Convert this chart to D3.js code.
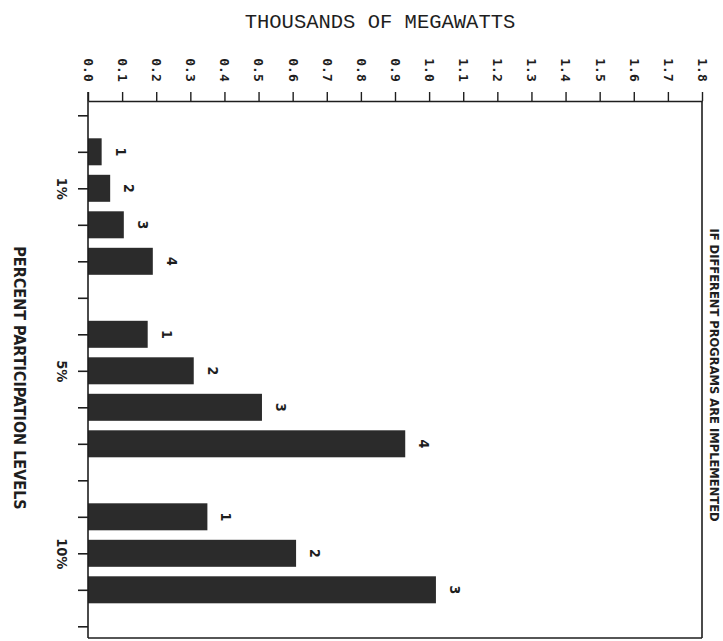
<!DOCTYPE html>
<html>
<head>
<meta charset="utf-8">
<script src="https://cdn.jsdelivr.net/npm/d3@7"></script>
<style>
  html, body { margin: 0; padding: 0; background: #fff; }
  svg { display: block; }
</style>
</head>
<body>
<script>
// ---- data ----
const categories = ["1%", "5%", "10%"];
const programs1 = ["1", "2", "3", "4"];
const programs5 = ["1", "2", "3", "4"];
const programs10 = ["1", "2", "3"];
const values1 = [0.04, 0.065, 0.105, 0.19];
const values5 = [0.175, 0.31, 0.51, 0.93];
const values10 = [0.35, 0.61, 1.02];
const xTickValues = [0.0, 0.1, 0.2, 0.3, 0.4, 0.5, 0.6, 0.7, 0.8, 0.9, 1.0, 1.1, 1.2, 1.3, 1.4, 1.5, 1.6, 1.7, 1.8];
const titleText = "THOUSANDS OF MEGAWATTS";
const yTitleText = "PERCENT PARTICIPATION LEVELS";
const rightText = "IF DIFFERENT PROGRAMS ARE IMPLEMENTED";

(function () {
// ---- build slot table ----
const groups = [
  { cat: categories[0], progs: programs1, vals: values1 },
  { cat: categories[1], progs: programs5, vals: values5 },
  { cat: categories[2], progs: programs10, vals: values10 }
];
const slots = [];
const bars = [];
const catSlot = {};
slots.push("pad0");
groups.forEach((g, gi) => {
  g.progs.forEach((p, i) => {
    const id = g.cat + "-" + p;
    slots.push(id);
    bars.push({ id, label: p, value: g.vals[i] });
    if (i === 1) catSlot[id] = g.cat;
  });
  slots.push("pad" + (gi + 1));
});

const W = 723, H = 641;
const pL = 88, pR = 702, pT = 101, pB = 638;
const svg = d3.select("body").append("svg").attr("width", W).attr("height", H);

const x = d3.scaleLinear().domain([0, 1.8]).range([pL, pR]);
const y = d3.scalePoint().domain(slots).range([115.3, 626.3]);
const barH = 27;
const ink = "#1e1e1e";
const barFill = "#2b2b2b";

// title
svg.append("text")
  .attr("x", 380).attr("y", 28)
  .attr("text-anchor", "middle")
  .attr("font-family", "'Liberation Mono', 'DejaVu Sans Mono', monospace")
  .attr("font-size", 20.5)
  .attr("fill", ink)
  .text(titleText);

// bars
svg.append("g").selectAll("rect").data(bars).join("rect")
  .attr("x", x(0))
  .attr("y", d => y(d.id) - barH / 2)
  .attr("width", d => x(d.value) - x(0))
  .attr("height", barH)
  .attr("fill", barFill);

// bar labels
svg.append("g").selectAll("text").data(bars).join("text")
  .attr("transform", d => `translate(${x(d.value) + 19},${y(d.id)}) rotate(90)`)
  .attr("text-anchor", "middle")
  .attr("dy", "0.35em")
  .attr("font-family", "'DejaVu Sans Condensed', 'DejaVu Sans', sans-serif")
  .attr("font-weight", "bold")
  .attr("font-size", 14)
  .attr("fill", ink)
  .text(d => d.label);

// top axis
const xAxis = d3.axisTop(x).tickValues(xTickValues).tickSize(9).tickSizeOuter(0)
  .tickFormat(d3.format(".1f"));
const gx = svg.append("g").attr("transform", `translate(0,${pT})`).call(xAxis);
gx.select(".domain").attr("stroke", ink).attr("stroke-width", 1.6);
gx.selectAll(".tick line").attr("stroke", ink).attr("stroke-width", 1.4);
gx.selectAll(".tick text")
  .attr("transform", "translate(0,-31) rotate(90)")
  .attr("x", 0).attr("y", 0).attr("dy", "0.35em")
  .attr("text-anchor", "middle")
  .attr("font-family", "'DejaVu Sans Mono', monospace")
  .attr("font-weight", "bold")
  .attr("font-size", 13)
  .attr("fill", ink);

// left axis
const yAxis = d3.axisLeft(y).tickSize(10).tickSizeOuter(0)
  .tickFormat(d => catSlot[d] || "");
const gy = svg.append("g").attr("transform", `translate(${pL},0)`).call(yAxis);
gy.select(".domain").remove();
gy.selectAll(".tick line").attr("stroke", ink).attr("stroke-width", 1.6);
gy.selectAll(".tick text")
  .attr("transform", "translate(-26,0) rotate(90)")
  .attr("x", 0).attr("y", 0).attr("dy", "0.35em")
  .attr("text-anchor", "middle")
  .attr("font-family", "'DejaVu Sans Condensed', 'DejaVu Sans', sans-serif")
  .attr("font-weight", "bold")
  .attr("font-size", 14.5)
  .attr("fill", ink);

// frame
const frame = svg.append("g").attr("stroke", ink).attr("stroke-width", 1.6).attr("fill", "none");
frame.append("line").attr("x1", pL).attr("x2", pL).attr("y1", pT - 9).attr("y2", pB);
frame.append("line").attr("x1", pL).attr("x2", pR).attr("y1", pB).attr("y2", pB);
frame.append("line").attr("x1", pR).attr("x2", pR).attr("y1", pT).attr("y2", pB);

// y title
svg.append("text")
  .attr("transform", "translate(20,378) rotate(90)")
  .attr("text-anchor", "middle")
  .attr("dy", "0.35em")
  .attr("font-family", "'DejaVu Sans Condensed', 'DejaVu Sans', sans-serif")
  .attr("font-weight", "bold")
  .attr("font-size", 16)
  .attr("fill", ink)
  .text(yTitleText);

// right-side text
svg.append("text")
  .attr("transform", "translate(714,375) rotate(90)")
  .attr("text-anchor", "middle")
  .attr("dy", "0.35em")
  .attr("font-family", "'DejaVu Sans Condensed', 'DejaVu Sans', sans-serif")
  .attr("font-weight", "bold")
  .attr("font-size", 12.8)
  .attr("fill", ink)
  .text(rightText);
})();
</script>
</body>
</html>
